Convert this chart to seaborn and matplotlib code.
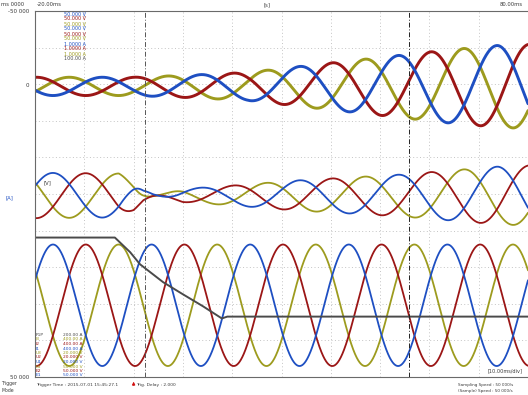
import numpy as np
import pandas as pd
import matplotlib
matplotlib.use("Agg")
import matplotlib.pyplot as plt
import seaborn as sns

sns.set_theme(style="white")
plt.rcParams['font.family'] = ['DejaVu Sans']

# ---------------- data ----------------
# time axis in ms relative to trigger, 10 ms / division, 10 divisions
time_start_ms = -20.0
time_end_ms = 80.0
line_freq_hz = 50.0

phase_names = ["U", "V", "W"]
phase_colors = ["#1e4fc2", "#9b1616", "#9d9b1e"]
# time of the first upward crest of each phase in the lower group (ms)
crest_time_ms = [-16.35, -9.7, -3.05]

# lower group (currents), in divisions from top of the screen
lower_center_div = 8.04
lower_amp_div = 1.66

# middle group: centre and signed envelope read at several times
middle_center_div = 5.04
middle_env_t = [-20, -3, 0, 2, 4, 10, 20, 33, 54, 74, 80]
middle_env_v = [0.62, 0.60, 0.40, 0.15, 0.03, -0.18, -0.27, -0.41, -0.57, -0.79, -0.82]

# upper group: centre and signed envelope
upper_center_div = 2.06
upper_env_t = [-20, 0, 10, 23, 34, 44, 54, 64, 74, 80]
upper_env_v = [-0.25, -0.25, -0.30, -0.38, -0.55, -0.70, -0.85, -1.00, -1.12, -1.15]

# grey trace (speed), divisions from top
gray_t = [-20.0, -3.8, -0.7, 1.3, 6.0, 10.0, 14.1, 17.9, 19.0, 80.0]
gray_y = [6.19, 6.19, 6.59, 6.92, 7.41, 7.74, 8.07, 8.40, 8.35, 8.35]

cursor_t = [2.3, 55.9]
trigger_t = 0.0

y_tick_pos = [0.0, 2.02, 10.0]
y_tick_lab = ["-50 000", "0", "50 000"]

legend_top = ["50.000 V", "50.000 V", "50.000 V", "50.000 V", "50.000 V",
              "50.000 V", "1.0000 A", "1.0000 A", "1.0000 A", "100.00 A"]
legend_top_col = [0, 1, 2, 0, 1, 2, 0, 1, 2, 3]
legend_bot = ["200.00 A", "400.00 A", "400.00 A", "400.00 A", "20.000 V",
              "20.000 V", "20.000 V", "50.000 V", "50.000 V", "50.000 V"]
legend_bot_tag = ["P1P", "I3", "I2", "I1", "U3", "U2", "U1", "E3", "E2", "E1"]
legend_bot_col = [3, 2, 1, 0, 2, 1, 0, 2, 1, 0]

# ---------------- build table ----------------
t = np.linspace(time_start_ms, time_end_ms, 2001)
rows = []
for name, c0 in zip(phase_names, crest_time_ms):
    base = np.cos(2 * np.pi * line_freq_hz * (t - c0) / 1000.0)
    rows.append(pd.DataFrame({"t": t, "y": lower_center_div - lower_amp_div * base,
                              "phase": name, "group": "lower"}))
    env_m = np.interp(t, middle_env_t, middle_env_v)
    rows.append(pd.DataFrame({"t": t, "y": middle_center_div - env_m * base,
                              "phase": name, "group": "middle"}))
    env_u = np.interp(t, upper_env_t, upper_env_v)
    rows.append(pd.DataFrame({"t": t, "y": upper_center_div - env_u * base,
                              "phase": name, "group": "upper"}))
df = pd.concat(rows, ignore_index=True)
gray_df = pd.DataFrame({"t": gray_t, "y": gray_y})

palette = dict(zip(phase_names, phase_colors))
gray_col = "#4a4a4a"
txt_col = "#3a3a3a"

# ---------------- figure ----------------
W, H = 528, 395
fig = plt.figure(figsize=(W / 100, H / 100), dpi=100)
fig.patch.set_facecolor("white")
ax = fig.add_axes([35 / W, 18 / H, 493 / W, 366 / H])

def px(x, y):
    return (x / W, 1 - y / H)

order = ["W", "V", "U"]
for grp, lw in [("lower", 1.3), ("middle", 1.3), ("upper", 2.1)]:
    sub = df[df["group"] == grp]
    for ph in order:
        s = sub[sub["phase"] == ph]
        sns.lineplot(data=s, x="t", y="y", color=palette[ph], lw=lw,
                     estimator=None, sort=False, ax=ax, legend=False)
sns.lineplot(data=gray_df, x="t", y="y", color=gray_col, lw=1.4,
             estimator=None, sort=False, ax=ax, legend=False)

ax.set_xlim(time_start_ms, time_end_ms)
ax.set_ylim(10, 0)
ax.set_xlabel("")
ax.set_ylabel("")

ax.set_xticks(np.arange(time_start_ms, time_end_ms + 1, 10), minor=True)
ax.set_yticks(np.arange(0, 11, 1), minor=True)
ax.set_xticks([])
ax.set_yticks(y_tick_pos)
ax.set_yticklabels(y_tick_lab, fontsize=4.0, color=txt_col)
ax.tick_params(axis="y", which="major", length=3, width=0.6, pad=1, color="#555555")
ax.tick_params(which="minor", length=0)
ax.grid(which="minor", color="#c4c4c4", ls=(0, (1, 2.5)), lw=0.7)
ax.grid(which="major", visible=False)

for ct, col in zip(cursor_t, ["#555555", "#222222"]):
    ax.axvline(ct, color=col, lw=0.7, ls=(0, (5, 2, 1, 2)), zorder=5)

for side in ["left", "top", "bottom"]:
    ax.spines[side].set_color("#6a6a6a")
    ax.spines[side].set_linewidth(0.8)
ax.spines["right"].set_visible(False)

# trigger marker below the axis
ax.annotate("", xy=(trigger_t, 10.05), xytext=(trigger_t, 10.3),
            xycoords="data", textcoords="data", annotation_clip=False,
            arrowprops=dict(arrowstyle="-|>", color="#d01010", lw=0.8,
                            mutation_scale=4))

# top texts
fig.text(*px(1, 4), "ms 0000", fontsize=3.8, color=txt_col, va="center")
fig.text(*px(37, 4), "-20.00ms", fontsize=3.8, color=txt_col, va="center")
fig.text(*px(263, 5), "[s]", fontsize=3.8, color=txt_col, va="center")
fig.text(*px(500, 4), "80.00ms", fontsize=3.8, color=txt_col, va="center")

# units
fig.text(*px(43, 183), "[V]", fontsize=3.8, color=txt_col, va="center")
fig.text(*px(5, 198), "[A]", fontsize=3.8, color="#1e4fc2", va="center")

# channel scale list (top-left, inside plot)
cols4 = phase_colors + [gray_col]
for i, (lab, ci) in enumerate(zip(legend_top, legend_top_col)):
    fig.text(*px(64, 14 + 5.0 * i), lab, fontsize=3.5, color=cols4[ci], va="center")

# channel list (bottom-left, inside plot)
for i, (tag, lab, ci) in enumerate(zip(legend_bot_tag, legend_bot, legend_bot_col)):
    y = 335 + 4.5 * i
    fig.text(*px(36, y), tag, fontsize=3.2, color=cols4[ci], va="center")
    fig.text(*px(63, y), lab, fontsize=3.2, color=cols4[ci], va="center")

fig.text(*px(488, 371), "[10.00ms/div]", fontsize=3.6, color=txt_col, va="center")

# bottom texts
fig.text(*px(1, 384), "Trigger", fontsize=3.3, color=txt_col, va="center")
fig.text(*px(1, 390), "Mode", fontsize=3.3, color=txt_col, va="center")
fig.text(*px(36, 385), "Trigger Time : 2015-07-01 15:45:27.1", fontsize=3.2,
         color=txt_col, va="center")
fig.text(*px(136, 385), "Trig. Delay : 2.000", fontsize=3.2, color=txt_col, va="center")
fig.text(*px(458, 385), "Sampling Speed : 50 000/s", fontsize=3.0, color=txt_col, va="center")
fig.text(*px(458, 391), "(Sample) Speed : 50 000/s", fontsize=3.0, color=txt_col, va="center")

fig.savefig("out.png", dpi=100, facecolor="white")
